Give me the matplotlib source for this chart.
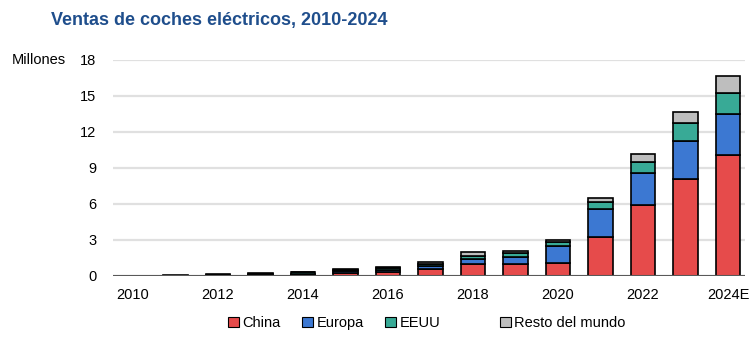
import numpy as np
import matplotlib.pyplot as plt

# Ventas anuales de coches eléctricos (millones de unidades)
years = ['2010', '2011', '2012', '2013', '2014', '2015', '2016', '2017',
         '2018', '2019', '2020', '2021', '2022', '2023', '2024E']
china = [0.005, 0.01, 0.02, 0.03, 0.08, 0.22, 0.30, 0.55,
         1.00, 1.03, 1.11, 3.22, 5.92, 8.06, 10.06]
europa = [0.005, 0.01, 0.04, 0.07, 0.10, 0.19, 0.22, 0.28,
          0.39, 0.55, 1.36, 2.34, 2.66, 3.19, 3.44]
eeuu = [0.005, 0.02, 0.05, 0.10, 0.12, 0.12, 0.17, 0.20,
        0.30, 0.34, 0.39, 0.61, 0.95, 1.45, 1.70]
resto = [0.01, 0.01, 0.03, 0.03, 0.05, 0.04, 0.07, 0.14,
         0.31, 0.19, 0.11, 0.36, 0.61, 0.94, 1.47]

series = [('China', china, '#E64B4B'),
          ('Europa', europa, '#3C78D2'),
          ('EEUU', eeuu, '#38AA96'),
          ('Resto del mundo', resto, '#BEBEBE')]

plt.rcParams['font.family'] = ['Liberation Sans', 'DejaVu Sans']

fig = plt.figure(figsize=(7.54, 3.42), dpi=100)
ax = fig.add_axes([0.150, 0.193, 0.838, 0.632])

x = np.arange(len(years))
bottom = np.zeros(len(years))
handles = []
for name, vals, color in series:
    b = ax.bar(x, vals, width=0.57, bottom=bottom, color=color,
               edgecolor='black', linewidth=1.2, label=name, zorder=3)
    handles.append(b)
    bottom += np.array(vals)

ax.set_ylim(0, 18)
ax.set_xlim(-0.47, 14.4)
ax.set_yticks(np.arange(0, 19, 3))
ax.set_xticks(x[::2])
ax.set_xticklabels(years[::2])
ax.tick_params(axis='both', length=0, labelsize=10.5, colors='black')
ax.tick_params(axis='y', pad=12)
ax.tick_params(axis='x', pad=9)

ax.yaxis.grid(True, color='#E0E0E0', linewidth=1.6, zorder=0)
ax.set_axisbelow(True)
for s in ax.spines.values():
    s.set_visible(False)
ax.axhline(0, color='#595959', linewidth=1.5, zorder=4)

fig.text(0.067, 0.94, 'Ventas de coches eléctricos, 2010-2024',
         fontsize=13, fontweight='bold', color='#1F4E8C', va='center')
fig.text(0.016, 0.825, 'Millones', fontsize=10.5, va='center')

legend_kw = dict(frameon=False, fontsize=10.5, handlelength=0.75,
                 handleheight=0.75, handletextpad=0.2, columnspacing=1.5,
                 borderpad=0, borderaxespad=0)
leg1 = fig.legend(handles[:3], [s[0] for s in series[:3]], ncol=3,
                  loc='center left', bbox_to_anchor=(0.303, 0.055), **legend_kw)
for p in leg1.get_patches():
    p.set_linewidth(0.8)
leg2 = fig.legend(handles[3:], [series[3][0]], ncol=1,
                  loc='center left', bbox_to_anchor=(0.663, 0.055), **legend_kw)
for p in leg2.get_patches():
    p.set_linewidth(0.8)

fig.savefig('out.png', dpi=100)
